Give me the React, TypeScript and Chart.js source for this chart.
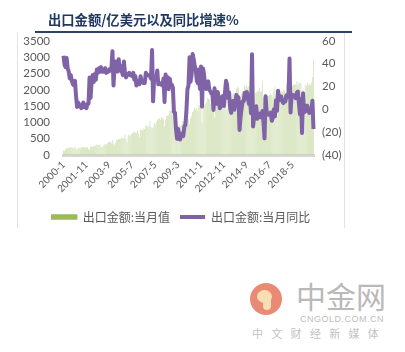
import React, { useEffect, useRef } from 'react';
import { Chart, registerables } from 'chart.js';
Chart.register(...registerables);

// 出口金额:当月值 (亿美元)
const exp2000 = [148, 123, 186, 200, 207, 220, 230, 241, 235, 219, 221, 250];
const exp2001 = [181, 170, 232, 217, 220, 235, 232, 245, 242, 220, 233, 244];
const exp2002 = [191, 155, 250, 256, 268, 259, 285, 292, 319, 304, 310, 324];
const exp2003 = [246, 241, 278, 328, 340, 324, 375, 374, 409, 403, 369, 446];
const exp2004 = [343, 312, 368, 466, 470, 491, 493, 502, 531, 514, 523, 640];
const exp2005 = [506, 383, 606, 620, 572, 652, 663, 702, 688, 689, 683, 755];
const exp2006 = [648, 541, 787, 767, 750, 815, 800, 908, 916, 877, 898, 1040];
const exp2007 = [868, 826, 836, 978, 941, 1030, 1081, 1112, 1120, 1077, 1177, 1146];
const exp2008 = [1096, 873, 1089, 1188, 1205, 1213, 1367, 1349, 1364, 1283, 1150, 1112];
const exp2009 = [905, 649, 903, 919, 888, 955, 1054, 1037, 1160, 1107, 1137, 1307];
const exp2010 = [1095, 946, 1122, 1199, 1316, 1374, 1455, 1393, 1449, 1359, 1534, 1541];
const exp2011 = [1507, 974, 1522, 1556, 1572, 1620, 1750, 1733, 1696, 1574, 1745, 1747];
const exp2012 = [1499, 1144, 1657, 1633, 1812, 1802, 1769, 1780, 1863, 1755, 1793, 1990];
const exp2013 = [1873, 1393, 1821, 1870, 1828, 1743, 1860, 1906, 1856, 1853, 2022, 2077];
const exp2014 = [2071, 1141, 1701, 1887, 1955, 1867, 2128, 2084, 2136, 2069, 2117, 2275];
const exp2015 = [2001, 1691, 1446, 1763, 1907, 1924, 1951, 1967, 2056, 1925, 1968, 2253];
const exp2016 = [1774, 1261, 1606, 1727, 1810, 1811, 1842, 1904, 1843, 1780, 1968, 2094];
const exp2017 = [1826, 1201, 1808, 1801, 1914, 1966, 1936, 1996, 1981, 1890, 2171, 2317];
const exp2018 = [1997, 1710, 1741, 1998, 2122, 2168, 2155, 2173, 2263, 2171, 2249, 2213];
const exp2019 = [2177, 1354, 1986, 1934, 2138, 2128, 2215, 2148, 2182, 2129, 2217, 2395];
const exp2020 = [2924];

// 出口金额:当月同比 (%)
const yoy2000 = [47, 39, 37, 45, 36, 33, 27, 30, 25, 22, 21, 25];
const yoy2001 = [12, 2, 6, 4, 3, 1, 4, 6, 2, 3, 1, 5];
const yoy2002 = [5, 28, 10, 25, 30, 24, 31, 26, 35, 32, 36, 33];
const yoy2003 = [37, 33, 35, 33, 36, 32, 34, 33, 35, 34, 36, 51];
const yoy2004 = [21, 38, 42, 36, 33, 44, 34, 38, 33, 30, 42, 32];
const yoy2005 = [28, 30, 31, 32, 30, 30, 29, 32, 26, 29, 21, 22];
const yoy2006 = [25, 22, 29, 24, 25, 23, 23, 32, 30, 30, 30, 29];
const yoy2007 = [27, 52, 7, 27, 28, 27, 34, 22, 23, 22, 23, 21];
const yoy2008 = [27, 6.5, 30.6, 21.8, 28.1, 17.6, 26.9, 21.1, 21.5, 19.2, -2.2, -2.8];
const yoy2009 = [-17.5, -25.7, -17.1, -22.6, -26.4, -21.4, -23, -23.4, -15.2, -13.8, -1.2, 17.7];
const yoy2010 = [21, 45.7, 24.3, 30.5, 48.5, 43.9, 38.1, 34.4, 25.1, 22.9, 34.9, 17.9];
const yoy2011 = [37.6, 2.4, 35.8, 29.9, 19.4, 17.9, 20.4, 24.5, 17.1, 15.9, 13.8, 13.4];
const yoy2012 = [-0.5, 18.4, 8.9, 4.9, 15.3, 11.3, 1, 2.7, 9.9, 11.6, 2.9, 14.1];
const yoy2013 = [25, 21.8, 10, 14.7, 1, -3.1, 5.1, 7.2, -0.3, 5.6, 12.7, 4.3];
const yoy2014 = [10.6, -18.1, -6.6, 0.9, 7, 7.2, 14.5, 9.4, 15.3, 11.6, 4.7, 9.7];
const yoy2015 = [-3.3, 48.3, -15, -6.4, -2.5, 2.8, -8.3, -5.5, -3.7, -6.9, -6.8, -1.4];
const yoy2016 = [-11.2, -25.4, 11.5, -1.8, -4.1, -4.8, -4.4, -2.8, -10, -7.3, 0.1, -6.1];
const yoy2017 = [7.9, -1.3, 16.4, 8, 8.7, 11.3, 7.2, 5.5, 8.1, 6.9, 12.3, 10.9];
const yoy2018 = [11.1, 44.5, -2.7, 12.9, 12.6, 11.3, 12.2, 9.8, 14.5, 15.6, 5.4, -4.4];
const yoy2019 = [9.1, -20.7, 14.2, -2.7, 1.1, -1.3, 3.3, -1, -3.2, -0.9, -1.1, 7.6];
const yoy2020 = [-17.2];

const exportYears = [exp2000, exp2001, exp2002, exp2003, exp2004, exp2005, exp2006, exp2007, exp2008, exp2009,
  exp2010, exp2011, exp2012, exp2013, exp2014, exp2015, exp2016, exp2017, exp2018, exp2019, exp2020];
const yoyYears = [yoy2000, yoy2001, yoy2002, yoy2003, yoy2004, yoy2005, yoy2006, yoy2007, yoy2008, yoy2009,
  yoy2010, yoy2011, yoy2012, yoy2013, yoy2014, yoy2015, yoy2016, yoy2017, yoy2018, yoy2019, yoy2020];
const firstYear = 2000;
const lastYearMonths = [2];
const shownTickLabels = ['2000-1', '2001-11', '2003-9', '2005-7', '2007-5', '2009-3', '2011-1', '2012-11', '2014-9', '2016-7', '2018-5'];

const seriesBarName = '出口金额:当月值';
const seriesLineName = '出口金额:当月同比';
const titleText = '出口金额/亿美元以及同比增速%';

const labels: string[] = [];
exportYears.forEach((arr, yi) => {
  arr.forEach((_, mi) => {
    const month = yi === exportYears.length - 1 ? lastYearMonths[mi] : mi + 1;
    labels.push(`${firstYear + yi}-${month}`);
  });
});
const barValues = exportYears.flat();
const lineValues = yoyYears.flat();

const GREEN = '#9bbb59';
const BAR_GREEN = '#bcd293';
const PURPLE = '#7f63a6';
const TICK = '#595959';

export default function App() {
  const ref = useRef<HTMLCanvasElement>(null);
  useEffect(() => {
    if (!ref.current) return;
    const chart = new Chart(ref.current, {
      type: 'bar',
      data: {
        labels,
        datasets: [
          {
            type: 'bar',
            label: seriesBarName,
            data: barValues,
            backgroundColor: BAR_GREEN,
            borderWidth: 0,
            barPercentage: 0.5,
            categoryPercentage: 1,
            yAxisID: 'y',
            order: 2,
          },
          {
            type: 'line',
            label: seriesLineName,
            data: lineValues,
            borderColor: PURPLE,
            backgroundColor: PURPLE,
            borderWidth: 4,
            pointRadius: 0,
            tension: 0,
            borderJoinStyle: 'round',
            yAxisID: 'y1',
            order: 1,
          },
        ],
      },
      options: {
        animation: false,
        responsive: false,
        maintainAspectRatio: false,
        layout: { padding: { top: 0, left: 0, right: 0, bottom: 0 } },
        plugins: {
          tooltip: { enabled: false },
          legend: {
            position: 'bottom',
            labels: {
              color: TICK,
              font: { family: '"Noto Sans CJK SC", sans-serif', size: 12 },
              boxWidth: 25,
              boxHeight: 4,
              padding: 10,
              generateLabels: (c: any) =>
                c.data.datasets.map((ds: any, i: number) => ({
                  text: ds.label,
                  fillStyle: i === 0 ? GREEN : PURPLE,
                  strokeStyle: i === 0 ? GREEN : PURPLE,
                  lineWidth: i === 0 ? 1.5 : 0,
                  fontColor: TICK,
                  datasetIndex: i,
                  hidden: false,
                })),
            },
          },
        },
        scales: {
          x: {
            grid: { display: false, drawTicks: false },
            border: { display: true, color: '#d6d6d6', width: 3 },
            afterFit: (s: any) => { s.height = 46; },
            ticks: {
              autoSkip: false,
              maxRotation: 45,
              minRotation: 45,
              padding: 4,
              color: TICK,
              font: { family: 'Lato, sans-serif', size: 10 },
              callback: (_v: any, i: number) => (shownTickLabels.includes(labels[i]) ? labels[i] : ''),
            },
          },
          y: {
            position: 'left',
            min: 0,
            max: 3500,
            grid: { display: false, drawTicks: false },
            border: { display: false },
            afterFit: (s: any) => { s.width = 46; },
            ticks: {
              stepSize: 500,
              autoSkip: false,
              padding: 13,
              color: TICK,
              font: { family: 'Lato, sans-serif', size: 11.5 },
              callback: (v: any) => `${v}`,
            },
          },
          y1: {
            position: 'right',
            min: -40,
            max: 60,
            grid: { display: false, drawTicks: false },
            border: { display: false },
            afterFit: (s: any) => { s.width = 31; },
            ticks: {
              stepSize: 20,
              autoSkip: false,
              padding: 8,
              color: TICK,
              font: { family: 'Lato, sans-serif', size: 11.5 },
              callback: (v: any) => (v < 0 ? `(${-v})` : `${v}`),
            },
          },
        },
      },
    });
    return () => chart.destroy();
  }, []);

  return (
    <div style={{ position: 'absolute', left: 0, top: 0, width: 405, height: 352, background: '#fff', overflow: 'hidden' }}>
      <div style={{ position: 'absolute', left: 17, top: 33, width: 1, height: 195, background: '#e3e3e3' }} />
      <div style={{ position: 'absolute', left: 344, top: 33, width: 1, height: 195, background: '#e3e3e3' }} />
      <canvas ref={ref} width={328} height={212} style={{ position: 'absolute', left: 17, top: 21, width: 328, height: 212 }} />
      <div style={{ position: 'absolute', left: 0, top: 0, width: 405, height: 31, background: '#fff' }} />
      <div style={{ position: 'absolute', left: 48, top: 10, fontFamily: '"Noto Sans CJK SC", sans-serif', fontWeight: 700, fontSize: 13.3, lineHeight: '20px', color: '#1f3864', whiteSpace: 'nowrap' }}>
        {titleText}
      </div>
      <div style={{ position: 'absolute', left: 35, top: 31, width: 317, height: 2, background: '#2a4366' }} />
      <div style={{ position: 'absolute', left: 250, top: 283, width: 32, height: 32, borderRadius: '50%', background: '#e6775c', opacity: 0.85 }}>
        <div style={{ position: 'absolute', left: 7, top: 7, width: 15, height: 13, borderRadius: '50%', background: '#f6d9a8' }} />
        <div style={{ position: 'absolute', left: 13, top: 16, width: 8, height: 11, borderRadius: '0 0 8px 8px', background: '#f6d9a8' }} />
      </div>
      <div style={{ position: 'absolute', left: 296, top: 278, fontFamily: '"Noto Sans CJK SC", sans-serif', fontSize: 30, lineHeight: '34px', color: '#b9b9b9', whiteSpace: 'nowrap' }}>
        中金网
      </div>
      <div style={{ position: 'absolute', left: 300, top: 314, fontFamily: '"Liberation Sans", sans-serif', fontSize: 9, lineHeight: '11px', color: '#bdbdbd', letterSpacing: 0.5, whiteSpace: 'nowrap' }}>
        CNGOLD.COM.CN
      </div>
      <div style={{ position: 'absolute', left: 252, top: 326, fontFamily: '"Noto Sans CJK SC", sans-serif', fontSize: 11, lineHeight: '14px', color: '#c2c2c2', letterSpacing: 8.3, whiteSpace: 'nowrap' }}>
        中文财经新媒体
      </div>
    </div>
  );
}
